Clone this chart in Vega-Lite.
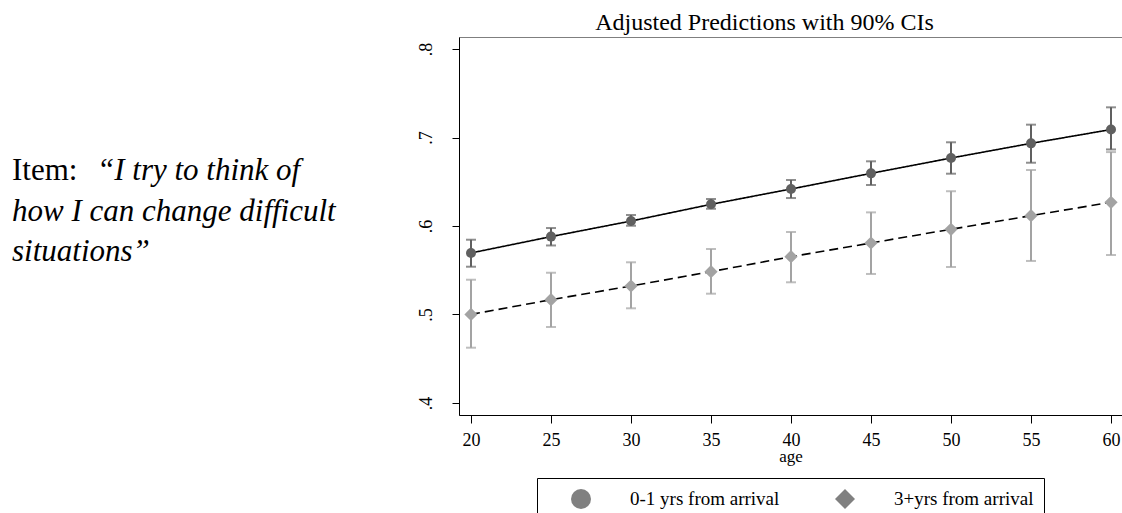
{
  "$schema": "https://vega.github.io/schema/vega-lite/v6.json",
  "background": "white",
  "padding": {"left": 5, "top": 10, "right": 0, "bottom": -6},
  "spacing": 0,
  "config": {"font": "Liberation Serif", "concat": {"spacing": 0}},
  "hconcat": [
    {
      "width": 407,
      "height": 378,
      "view": {"stroke": null, "fill": "white"},
      "layer": [
        {
          "data": {"values": [{"line": 1, "text": "Item:"}]},
          "mark": {"type": "text", "align": "left", "baseline": "alphabetic", "font": "Liberation Serif", "fontSize": 31, "dx": 7, "color": "black"},
          "encoding": {
            "x": {"datum": 0, "type": "quantitative", "scale": {"domain": [0, 1]}, "axis": null},
            "y": {"field": "line", "type": "quantitative", "scale": {"domain": [-2.531, 6.802], "reverse": true}, "axis": null},
            "text": {"field": "text"}
          }
        },
        {
          "data": {"values": [{"line": 1, "text": "“I try to think of"}]},
          "mark": {"type": "text", "align": "left", "baseline": "alphabetic", "font": "Liberation Serif", "fontSize": 31, "fontStyle": "italic", "dx": 92, "color": "black"},
          "encoding": {
            "x": {"datum": 0, "type": "quantitative", "scale": {"domain": [0, 1]}, "axis": null},
            "y": {"field": "line", "type": "quantitative", "scale": {"domain": [-2.531, 6.802], "reverse": true}, "axis": null},
            "text": {"field": "text"}
          }
        },
        {
          "data": {"values": [{"line": 2, "text": "how I can change difficult"}, {"line": 3, "text": "situations”"}]},
          "mark": {"type": "text", "align": "left", "baseline": "alphabetic", "font": "Liberation Serif", "fontSize": 31, "fontStyle": "italic", "dx": 7, "color": "black"},
          "encoding": {
            "x": {"datum": 0, "type": "quantitative", "scale": {"domain": [0, 1]}, "axis": null},
            "y": {"field": "line", "type": "quantitative", "scale": {"domain": [-2.531, 6.802], "reverse": true}, "axis": null},
            "text": {"field": "text"}
          }
        }
      ]
    },
    {
      "width": 663,
      "height": 378,
      "view": {"stroke": "#7f7f7f"},
      "title": {"text": "Adjusted Predictions with 90% CIs", "font": "Liberation Serif", "fontSize": 24, "fontWeight": "normal", "color": "black", "anchor": "middle", "baseline": "alphabetic", "offset": -17, "dx": -26},
      "data": {
        "values": [
          {"age": 20, "group": "0-1 yrs from arrival", "pred": 0.5695, "lo": 0.5540, "hi": 0.5845},
          {"age": 25, "group": "0-1 yrs from arrival", "pred": 0.5880, "lo": 0.5780, "hi": 0.5977},
          {"age": 30, "group": "0-1 yrs from arrival", "pred": 0.6056, "lo": 0.6003, "hi": 0.6124},
          {"age": 35, "group": "0-1 yrs from arrival", "pred": 0.6245, "lo": 0.6195, "hi": 0.6305},
          {"age": 40, "group": "0-1 yrs from arrival", "pred": 0.6418, "lo": 0.6316, "hi": 0.6520},
          {"age": 45, "group": "0-1 yrs from arrival", "pred": 0.6595, "lo": 0.6463, "hi": 0.6731},
          {"age": 50, "group": "0-1 yrs from arrival", "pred": 0.6768, "lo": 0.6591, "hi": 0.6946},
          {"age": 55, "group": "0-1 yrs from arrival", "pred": 0.6934, "lo": 0.6715, "hi": 0.7145},
          {"age": 60, "group": "0-1 yrs from arrival", "pred": 0.7090, "lo": 0.6865, "hi": 0.7341},
          {"age": 20, "group": "3+yrs from arrival", "pred": 0.5001, "lo": 0.4625, "hi": 0.5393},
          {"age": 25, "group": "3+yrs from arrival", "pred": 0.5167, "lo": 0.4859, "hi": 0.5472},
          {"age": 30, "group": "3+yrs from arrival", "pred": 0.5322, "lo": 0.5070, "hi": 0.5590},
          {"age": 35, "group": "3+yrs from arrival", "pred": 0.5484, "lo": 0.5235, "hi": 0.5740},
          {"age": 40, "group": "3+yrs from arrival", "pred": 0.5653, "lo": 0.5364, "hi": 0.5932},
          {"age": 45, "group": "3+yrs from arrival", "pred": 0.5808, "lo": 0.5458, "hi": 0.6154},
          {"age": 50, "group": "3+yrs from arrival", "pred": 0.5963, "lo": 0.5537, "hi": 0.6393},
          {"age": 55, "group": "3+yrs from arrival", "pred": 0.6117, "lo": 0.5605, "hi": 0.6633},
          {"age": 60, "group": "3+yrs from arrival", "pred": 0.6268, "lo": 0.5672, "hi": 0.6835}
        ]
      },
      "encoding": {
        "x": {
          "field": "age", "type": "quantitative",
          "scale": {"domain": [19.25, 60.6875], "nice": false, "zero": false},
          "axis": {
            "values": [20, 25, 30, 35, 40, 45, 50, 55, 60],
            "title": "age", "titleFont": "Liberation Serif", "titleFontSize": 17, "titleFontWeight": "normal", "titleColor": "black", "titlePadding": -1,
            "labelFont": "Liberation Serif", "labelFontSize": 18, "labelColor": "black", "labelPadding": 8, "labelFlush": false,
            "tickSize": 8, "tickColor": "black", "domainColor": "black", "grid": false
          }
        }
      },
      "layer": [
        {
          "mark": {"type": "rule", "strokeWidth": 2},
          "encoding": {
            "y": {
              "field": "lo", "type": "quantitative",
              "scale": {"domain": [0.38644, 0.81356], "nice": false, "zero": false},
              "axis": {
                "values": [0.4, 0.5, 0.6, 0.7, 0.8],
                "labelExpr": "'.' + format(datum.value * 10, '.0f')",
                "labelAngle": 270, "labelAlign": "center", "labelBaseline": "alphabetic", "labelPadding": 21,
                "labelFont": "Liberation Serif", "labelFontSize": 18, "labelColor": "black",
                "tickSize": 7, "tickColor": "black", "domainColor": "black", "grid": false, "title": null,
                "minExtent": 46, "maxExtent": 46
              }
            },
            "y2": {"field": "hi"},
            "color": {"field": "group", "type": "nominal", "scale": {"domain": ["0-1 yrs from arrival", "3+yrs from arrival"], "range": ["#606060", "#a3a3a3"]}, "legend": null}
          }
        },
        {
          "mark": {"type": "tick", "orient": "horizontal", "thickness": 2, "size": 10},
          "encoding": {
            "y": {"field": "lo", "type": "quantitative", "scale": {"domain": [0.38644, 0.81356], "nice": false, "zero": false}},
            "color": {"field": "group", "type": "nominal", "scale": {"domain": ["0-1 yrs from arrival", "3+yrs from arrival"], "range": ["#606060", "#a3a3a3"]}, "legend": null}
          }
        },
        {
          "mark": {"type": "tick", "orient": "horizontal", "thickness": 2, "size": 10},
          "encoding": {
            "y": {"field": "hi", "type": "quantitative", "scale": {"domain": [0.38644, 0.81356], "nice": false, "zero": false}},
            "color": {"field": "group", "type": "nominal", "scale": {"domain": ["0-1 yrs from arrival", "3+yrs from arrival"], "range": ["#606060", "#a3a3a3"]}, "legend": null}
          }
        },
        {
          "mark": {"type": "line", "color": "black", "strokeWidth": 1.6},
          "encoding": {
            "y": {"field": "pred", "type": "quantitative", "scale": {"domain": [0.38644, 0.81356], "nice": false, "zero": false}},
            "strokeDash": {"field": "group", "type": "nominal", "scale": {"domain": ["0-1 yrs from arrival", "3+yrs from arrival"], "range": [[1, 0], [9, 5]]}, "legend": null}
          }
        },
        {
          "mark": {"type": "point", "filled": true, "opacity": 1},
          "encoding": {
            "y": {"field": "pred", "type": "quantitative", "scale": {"domain": [0.38644, 0.81356], "nice": false, "zero": false}},
            "color": {"field": "group", "type": "nominal", "scale": {"domain": ["0-1 yrs from arrival", "3+yrs from arrival"], "range": ["#606060", "#a3a3a3"]}, "legend": null},
            "shape": {"field": "group", "type": "nominal", "scale": {"domain": ["0-1 yrs from arrival", "3+yrs from arrival"], "range": ["circle", "diamond"]}, "legend": null},
            "size": {"field": "group", "type": "nominal", "scale": {"domain": ["0-1 yrs from arrival", "3+yrs from arrival"], "range": [100, 175]}, "legend": null}
          }
        },
        {
          "transform": [{"filter": "false"}],
          "mark": {"type": "point", "filled": true, "opacity": 1, "color": "#808080"},
          "encoding": {
            "y": {"field": "pred", "type": "quantitative", "scale": {"domain": [0.38644, 0.81356], "nice": false, "zero": false}},
            "shape": {
              "field": "group", "type": "nominal",
              "scale": {"domain": ["0-1 yrs from arrival", "3+yrs from arrival"], "range": ["circle", "diamond"]},
              "legend": {
                "orient": "none", "legendX": 78, "legendY": 441, "direction": "horizontal", "title": null,
                "strokeColor": "black", "fillColor": "white", "padding": 10,
                "symbolSize": 400, "symbolOffset": 23, "labelOffset": 38, "columnPadding": 31,
                "labelFont": "Liberation Serif", "labelFontSize": 19, "labelColor": "black", "labelLimit": 400
              }
            }
          }
        }
      ],
      "resolve": {"scale": {"shape": "independent"}}
    }
  ]
}
